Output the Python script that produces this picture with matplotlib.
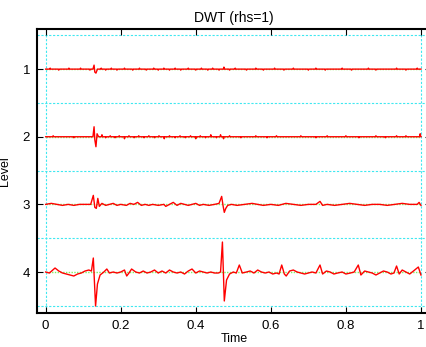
import matplotlib

matplotlib.use("Agg")
import matplotlib.pyplot as plt
import numpy as np

plt.rcParams["font.family"] = ["Liberation Sans", "DejaVu Sans"]

PX = 1 / 67.7  # one screen pixel in level units

# level 4: (time, deviation in px, + is downward)
t4 = [0.000, 0.010, 0.025, 0.035, 0.045, 0.055, 0.065, 0.075, 0.085, 0.095, 0.105, 0.115,
      0.122, 0.127, 0.133, 0.138, 0.145, 0.155, 0.163, 0.170, 0.180, 0.190, 0.200, 0.210,
      0.216, 0.222, 0.229, 0.240, 0.250, 0.260, 0.270, 0.280, 0.290, 0.300, 0.310, 0.320,
      0.330, 0.340, 0.350, 0.360, 0.370, 0.380, 0.390, 0.400, 0.410, 0.420, 0.430, 0.440,
      0.450, 0.460, 0.466, 0.471, 0.476, 0.482, 0.490, 0.500, 0.508, 0.516, 0.524, 0.535,
      0.545, 0.555, 0.565, 0.575, 0.585, 0.595, 0.605, 0.615, 0.622, 0.629, 0.636, 0.641,
      0.650, 0.660, 0.670, 0.680, 0.690, 0.700, 0.710, 0.720, 0.731, 0.738, 0.748, 0.758,
      0.768, 0.778, 0.790, 0.800, 0.812, 0.822, 0.833, 0.840, 0.850, 0.860, 0.870, 0.880,
      0.890, 0.900, 0.910, 0.920, 0.928, 0.935, 0.942, 0.950, 0.960, 0.970, 0.980, 0.993,
      1.000]
d4 = [0, 1, -4, -1, 1, 2, 3, 4, 2, 1, -1, -2,
      -1, -14, 34, 12, 3, 0, -3, 1, 0, 1, 0, -2,
      4, 1, -3, 0, 1, -1, 1, 0, -2, 1, -1, 1,
      -2, 0, 1, 0, 2, -1, -3, 1, -1, 0, 1, 0,
      1, 1, 0, -30, 29, 8, 2, 0, 1, -7, 1, 0,
      -1, 1, -2, 0, 1, 0, 2, 1, 2, -7, 2, 4,
      -1, -2, 0, 1, 2, 1, 0, 1, -7, 2, -1, 0,
      2, 1, 0, 2, 1, 0, -7, 3, -1, 0, 1, 3,
      1, -1, 0, 2, 1, -6, 2, -2, 0, 2, -1, -5,
      3]

t3 = [0.000, 0.015, 0.030, 0.045, 0.060, 0.075, 0.090, 0.105, 0.120, 0.127, 0.131, 0.135,
      0.139, 0.143, 0.150, 0.160, 0.170, 0.180, 0.190, 0.200, 0.215, 0.225, 0.235, 0.245,
      0.255, 0.265, 0.275, 0.285, 0.300, 0.315, 0.320, 0.330, 0.340, 0.350, 0.360, 0.370,
      0.380, 0.390, 0.400, 0.410, 0.420, 0.435, 0.450, 0.462, 0.469, 0.473, 0.476, 0.480,
      0.485, 0.495, 0.510, 0.530, 0.550, 0.565, 0.580, 0.600, 0.620, 0.640, 0.660, 0.680,
      0.700, 0.720, 0.731, 0.738, 0.750, 0.770, 0.790, 0.810, 0.830, 0.850, 0.870, 0.890,
      0.910, 0.930, 0.950, 0.970, 0.990, 0.995, 1.000]
d3 = [0, -1, 0, 1, 0, 1, 0, 0, 0, -9, 3, 4,
      -6, 2, -1, 1, 0, -1, 1, 0, 1, -1, 0, -2,
      1, 0, 1, 0, 1, 0, 2, 0, -2, 1, -1, 0,
      1, 0, -1, 1, 0, 1, 0, -1, -8, 2, 8, 4,
      1, 0, 1, 0, -1, 0, 1, 0, 1, -1, 0, 1,
      0, 0, -3, 1, 0, 1, 0, -1, 0, 1, 0, 0,
      1, 0, -1, 0, 0, -2, 1]

# levels 1 and 2: flat with a burst near 0.13 and small isolated blips
burst2_t = [0.126, 0.129, 0.131, 0.134, 0.137, 0.141]
burst2_d = [0, -10, 3, 10, -3, 0]
blip2_t = [0.020, 0.075, 0.150, 0.160, 0.172, 0.185, 0.196, 0.210, 0.222, 0.236, 0.248,
           0.262, 0.275, 0.290, 0.302, 0.316, 0.330, 0.345, 0.358, 0.372, 0.386, 0.400,
           0.412, 0.426, 0.440, 0.455, 0.466, 0.474, 0.490, 0.520, 0.560, 0.590, 0.615,
           0.680, 0.720, 0.750, 0.800, 0.835, 0.880, 0.905, 0.935, 0.960, 0.998]
blip2_d = [-1, 1, -2, 1, -1, 1, -1, 2, -1, 1, -1,
           1, -1, 1, -1, 2, -1, 1, -1, 1, -1, 2,
           -1, 1, -2, 1, -2, 2, -1, 1, -1, 1, -1,
           -1, 1, -1, -1, 1, -1, 1, -1, -1, -3]

burst1_t = [0.126, 0.129, 0.131, 0.134, 0.138]
burst1_d = [0, -4, 3, 4, 0]
blip1_t = [0.012, 0.035, 0.062, 0.093, 0.118, 0.148, 0.160, 0.175, 0.190, 0.210, 0.232,
           0.250, 0.268, 0.288, 0.300, 0.315, 0.330, 0.345, 0.360, 0.380, 0.400, 0.415,
           0.432, 0.445, 0.462, 0.475, 0.490, 0.505, 0.535, 0.560, 0.580, 0.610, 0.635,
           0.660, 0.700, 0.720, 0.745, 0.790, 0.815, 0.860, 0.880, 0.935, 0.960, 0.990]
blip1_d = [-1, 1, -1, -1, 1, -1, 1, -1, 1, -1, 1,
           -1, 1, -1, 1, -1, 1, -1, 1, -1, 1, -1,
           1, -1, 1, -2, 1, -1, 1, -1, 1, -1, 1,
           -1, 1, -1, 1, -1, 1, -1, 1, -1, 1, -1]


def flat_with_blips(burst_t, burst_d, blip_t, blip_d, w=0.0015):
    pts = [(0.0, 0.0), (1.0, 0.0)] + list(zip(burst_t, burst_d))
    for t, d in zip(blip_t, blip_d):
        pts += [(t - w, 0.0), (t, d), (t + w, 0.0)]
    pts.sort()
    t, d = zip(*pts)
    return list(t), list(d)


levels = [1, 2, 3, 4]
series = [flat_with_blips(burst1_t, burst1_d, blip1_t, blip1_d),
          flat_with_blips(burst2_t, burst2_d, blip2_t, blip2_d),
          (t3, d3), (t4, d4)]

fig = plt.figure(figsize=(4.27, 3.47), dpi=100)
ax = fig.add_axes([0.0867, 0.098, 0.922, 0.818])

for y in [0.5, 1.5, 2.5, 3.5, 4.5]:
    ax.axhline(y, color="#40e8f0", ls=(0, (2, 1.5)), lw=0.8, zorder=1)
for x in [0, 1]:
    ax.axvline(x, color="#40e8f0", ls=(0, (2, 1.5)), lw=0.8, zorder=1)

for lev, (t, d) in zip(levels, series):
    t = np.asarray(t)
    ax.plot(t, np.full(t.size, lev), color="#80f060", ls=(0, (1, 1)), lw=1.0, zorder=2)
    ax.plot(t, lev + np.asarray(d) * PX, color="#ff0000", lw=1.0, zorder=3)

ax.set_xlim(-0.023, 1.026)
ax.set_ylim(4.606, 0.409)
ax.set_yticks(levels)
ax.set_xticks([0, 0.2, 0.4, 0.6, 0.8, 1])
ax.set_xticklabels(["0", "0.2", "0.4", "0.6", "0.8", "1"])
ax.tick_params(direction="in", length=4, width=0.8, labelsize=9.5,
               top=True, right=True, pad=5)
for s in ax.spines.values():
    s.set_linewidth(1.5)
ax.spines["right"].set_visible(False)
ax.set_title("DWT (rhs=1)", fontsize=10, pad=5)
ax.set_xlabel("Time", fontsize=9, labelpad=1)
ax.set_ylabel("Level", fontsize=9, labelpad=8)

fig.savefig("out.png", dpi=100)
